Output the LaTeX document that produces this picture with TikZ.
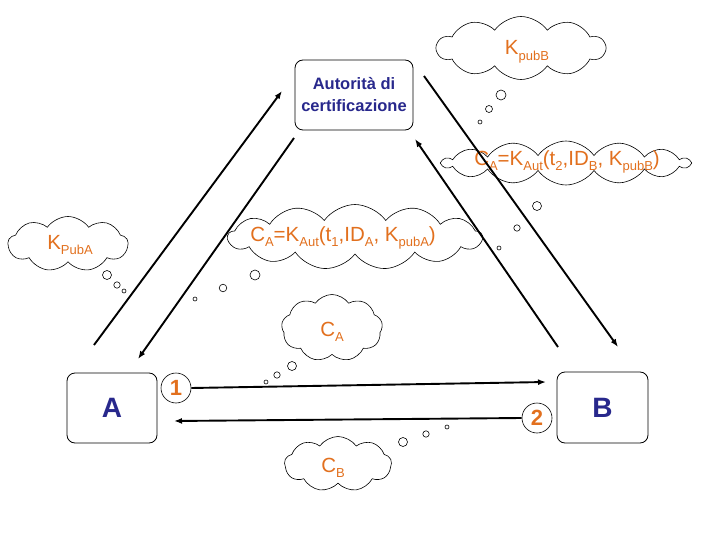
\documentclass[tikz,border=0pt]{standalone}
\usepackage{fontspec}
\setmainfont{Liberation Sans}
\usetikzlibrary{shapes.symbols,arrows.meta}
\definecolor{navy}{RGB}{40,40,140}
\definecolor{orng}{RGB}{226,112,30}
\newcommand\lo[1]{\raisebox{-0.5ex}{\fontsize{13}{13}\selectfont #1}}
\begin{document}
\begin{tikzpicture}[x=1pt,y=-1pt,
  box/.style={draw, rounded corners=8pt, line width=0.8pt, text=navy, inner sep=0pt},
  cloudy/.style={cloud, draw, fill=white, cloud puffs=#1, cloud puff arc=110, cloud ignores aspect, inner sep=0pt, line width=0.6pt},
  arr/.style={line width=1.9pt, -{Latex[length=8pt,width=6pt]}},
  num/.style={circle, draw, line width=0.6pt, minimum size=30pt, inner sep=0pt, text=orng, font=\bfseries\fontsize{22}{22}\selectfont},
  ctext/.style={text=orng, font=\fontsize{20.5}{20.5}\selectfont, inner sep=0pt},
  bubble/.style={draw, line width=0.6pt}]
\useasboundingbox (0,0) rectangle (720,540);

% clouds
\node[cloudy=10, minimum width=168pt, minimum height=63pt] (ckb) at (521,48) {};
\node[ctext] (tkb) at (527,52) {K\lo{pubB}};
\node[cloudy=14, minimum width=247pt, minimum height=44pt] (ct2) at (566,163) {};
\node[ctext] (tt2) at (567,162) {C\lo{A}=K\lo{Aut}(t\lo{2},ID\lo{B}, K\lo{pubB})};
\node[cloudy=13, minimum width=254pt, minimum height=65pt] (ct1) at (355,237) {};
\node[ctext] (tt1) at (343,238) {C\lo{A}=K\lo{Aut}(t\lo{1},ID\lo{A}, K\lo{pubA})};
\node[cloudy=9, minimum width=120pt, minimum height=55pt] (cka) at (68,244) {};
\node[ctext] (tka) at (70,245) {K\lo{PubA}};
\node[cloudy=9, minimum width=101pt, minimum height=67pt] (cca) at (332,328) {};
\node[ctext] (tca) at (332,332) {C\lo{A}};
\node[cloudy=9, minimum width=107pt, minimum height=55pt] (ccb) at (338,464) {};
\node[ctext] (tcb) at (333,468) {C\lo{B}};

% bubbles
\draw[bubble] (501,95) circle (5) (489,109) circle (3.5) (480,122) circle (2);
\draw[bubble] (537,206) circle (4.5) (517,228) circle (3.2) (499,248) circle (2);
\draw[bubble] (255,275) circle (5) (223,288) circle (3.8) (195,299) circle (2);
\draw[bubble] (107,275) circle (4.5) (117,285) circle (3.2) (124,291) circle (2);
\draw[bubble] (292,366) circle (4.5) (277,375) circle (3.2) (266,382) circle (2);
\draw[bubble] (403,442) circle (4.5) (426,434) circle (3.2) (447,427) circle (2);

% boxes
\node[box, minimum width=118pt, minimum height=70pt, align=center, font=\bfseries\fontsize{16.5}{22}\selectfont] (auth) at (354,95) {Autorità di\\certificazione};
\node[box, minimum width=90pt, minimum height=70pt, font=\bfseries\fontsize{28}{28}\selectfont] (A) at (112,408) {A};
\node[box, minimum width=91pt, minimum height=71pt, font=\bfseries\fontsize{28}{28}\selectfont] (B) at (602.5,407.5) {B};

% numbered circles
\node[num] (n1) at (176,388) {1};
\node[num] (n2) at (537,418) {2};

% arrow end points
\coordinate (la1s) at (94,345);
\coordinate (la1e) at (282,91);
\coordinate (la2s) at (294,138);
\coordinate (la2e) at (138,359);
\coordinate (ra1s) at (424,76);
\coordinate (ra1e) at (618,347);
\coordinate (ra2s) at (558,347);
\coordinate (ra2e) at (415,139);
\coordinate (h1e) at (546,382);
\coordinate (h2e) at (174,421);

\draw[arr] (la1s) -- (la1e);
\draw[arr] (la2s) -- (la2e);
\draw[arr] (ra1s) -- (ra1e);
\draw[arr] (ra2s) -- (ra2e);
\draw[arr] (n1.east) -- (h1e);
\draw[arr] (n2.west) -- (h2e);
\end{tikzpicture}
\end{document}
